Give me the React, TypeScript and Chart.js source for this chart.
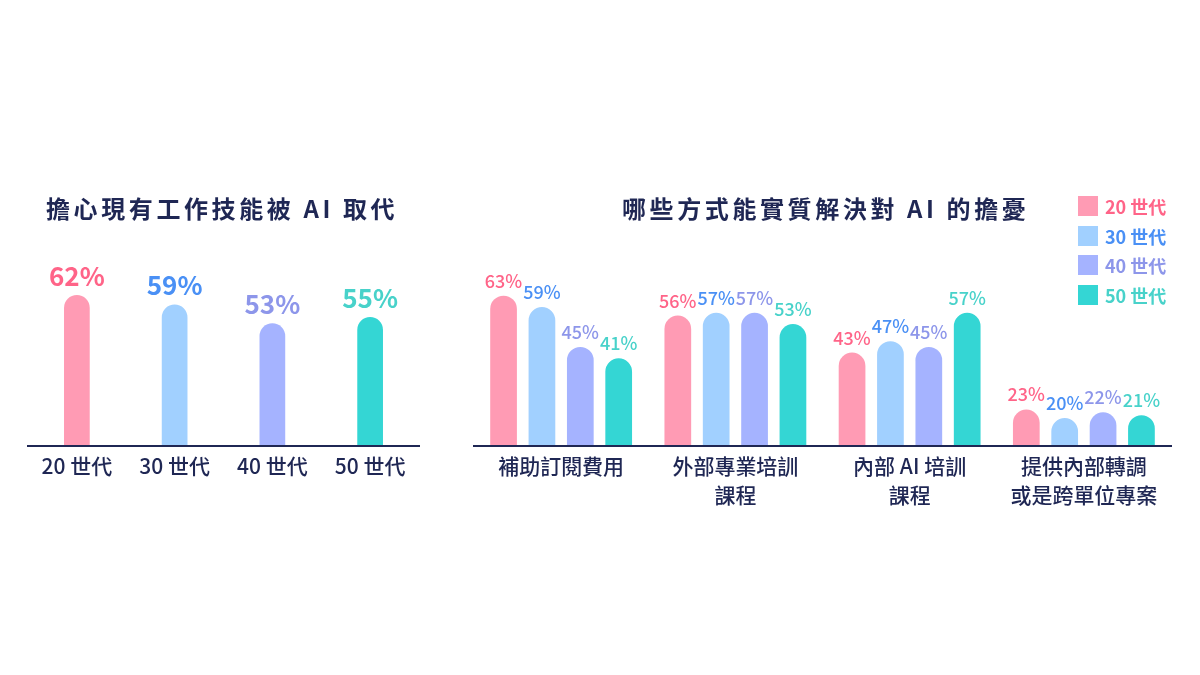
import { useEffect, useRef } from "react";
import { Chart, registerables, Plugin, ChartConfiguration } from "chart.js";

Chart.register(...registerables);

// 資料
const leftCategories = ["20 世代", "30 世代", "40 世代", "50 世代"];
const leftValues = [62, 59, 53, 55];

const rightCategories = [
  ["補助訂閱費用"],
  ["外部專業培訓", "課程"],
  ["內部 AI 培訓", "課程"],
  ["提供內部轉調", "或是跨單位專案"],
];
const seriesNames = ["20 世代", "30 世代", "40 世代", "50 世代"];
const gen20 = [63, 56, 43, 23];
const gen30 = [59, 57, 47, 20];
const gen40 = [45, 57, 45, 22];
const gen50 = [41, 53, 57, 21];

const leftTitle = "擔心現有工作技能被 AI 取代";
const rightTitle = "哪些方式能實質解決對 AI 的擔憂";

// 樣式
const FONT = '"Noto Sans CJK TC", "Noto Sans", sans-serif';
const NAVY = "#1f2754";
const barColors = ["#ff9bb4", "#a1d0ff", "#a5b3ff", "#34d6d4"];
const labelColors = ["#ff6488", "#4a90f5", "#8d96ea", "#48d2ca"];

// 在長條上方畫百分比
const valueLabels = (size: number, weight: number, gap: number, byIndex: boolean): Plugin<"bar"> => ({
  id: "valueLabels",
  afterDatasetsDraw(chart) {
    const { ctx } = chart;
    ctx.save();
    ctx.font = `${weight} ${size}px ${FONT}`;
    ctx.textAlign = "center";
    ctx.textBaseline = "alphabetic";
    chart.data.datasets.forEach((ds, di) => {
      chart.getDatasetMeta(di).data.forEach((bar, i) => {
        ctx.fillStyle = labelColors[byIndex ? i : di];
        ctx.fillText(`${ds.data[i]}%`, bar.x, bar.y - gap);
      });
    });
    ctx.restore();
  },
});

const xScale = (canvasHeight: number) => ({
  type: "category" as const,
  grid: { display: false, drawTicks: false },
  border: { display: true, color: NAVY, width: 2, z: 1 },
  ticks: {
    color: NAVY,
    padding: 6,
    maxRotation: 0,
    autoSkip: false,
    font: { family: FONT, size: 21, weight: 500, lineHeight: 1.36 },
  },
  afterFit: (scale: any) => {
    scale.height = canvasHeight - 446;
  },
});

function useChart(config: () => ChartConfiguration<"bar">) {
  const canvasRef = useRef<HTMLCanvasElement>(null);
  useEffect(() => {
    if (!canvasRef.current) return;
    const chart = new Chart(canvasRef.current, config());
    return () => chart.destroy();
  }, []);
  return canvasRef;
}

function LeftChart() {
  const ref = useChart(() => ({
    type: "bar",
    data: {
      labels: leftCategories,
      datasets: [
        {
          data: leftValues,
          backgroundColor: barColors,
          borderRadius: 14,
          borderSkipped: "bottom",
          barPercentage: 0.263,
          categoryPercentage: 1,
        },
      ],
    },
    options: {
      responsive: false,
      animation: false,
      layout: { padding: { left: 28, right: 21, top: 250, bottom: 0 } },
      plugins: { legend: { display: false }, tooltip: { enabled: false } },
      scales: {
        x: xScale(560) as any,
        y: { display: false, min: 13.8, max: 76.4 },
      },
    },
    plugins: [valueLabels(26, 600, 9, true)],
  }));
  return <canvas ref={ref} width={440} height={560} style={{ position: "absolute", left: 0, top: 0 }} />;
}

function RightChart() {
  const series = [gen20, gen30, gen40, gen50];
  const ref = useChart(() => ({
    type: "bar",
    data: {
      labels: rightCategories,
      datasets: series.map((values, i) => ({
        label: seriesNames[i],
        data: values,
        backgroundColor: barColors[i],
        borderRadius: 14,
        borderSkipped: "bottom" as const,
        barPercentage: 0.696,
        categoryPercentage: 0.881,
      })),
    },
    options: {
      responsive: false,
      animation: false,
      layout: { padding: { left: 34, right: 29, top: 250, bottom: 0 } },
      plugins: { legend: { display: false }, tooltip: { enabled: false } },
      scales: {
        x: xScale(560) as any,
        y: { display: false, min: 10.16, max: 79.05 },
      },
    },
    plugins: [valueLabels(18, 500, 8, false)],
  }));
  return <canvas ref={ref} width={760} height={560} style={{ position: "absolute", left: 440, top: 0 }} />;
}

const titleStyle = {
  position: "absolute" as const,
  top: 192,
  fontFamily: FONT,
  fontSize: 24,
  fontWeight: 700,
  letterSpacing: "3.6px",
  lineHeight: "32px",
  color: NAVY,
  whiteSpace: "nowrap" as const,
};

export default function App() {
  return (
    <div
      style={{
        position: "fixed",
        left: 0,
        top: 0,
        width: 1200,
        height: 675,
        background: "#fff",
        overflow: "hidden",
      }}
    >
      <LeftChart />
      <RightChart />
      <div style={{ ...titleStyle, left: 46 }}>{leftTitle}</div>
      <div style={{ ...titleStyle, left: 622 }}>{rightTitle}</div>
      <div style={{ position: "absolute", left: 1078, top: 196, fontFamily: FONT }}>
        {seriesNames.map((name, i) => (
          <div key={name} style={{ display: "flex", alignItems: "center", height: 20, marginBottom: 9.5 }}>
            <span style={{ width: 20, height: 20, background: barColors[i], display: "inline-block" }} />
            <span
              style={{
                marginLeft: 7,
                fontSize: 18,
                fontWeight: 600,
                color: labelColors[i],
                lineHeight: "20px",
              }}
            >
              {name}
            </span>
          </div>
        ))}
      </div>
    </div>
  );
}
